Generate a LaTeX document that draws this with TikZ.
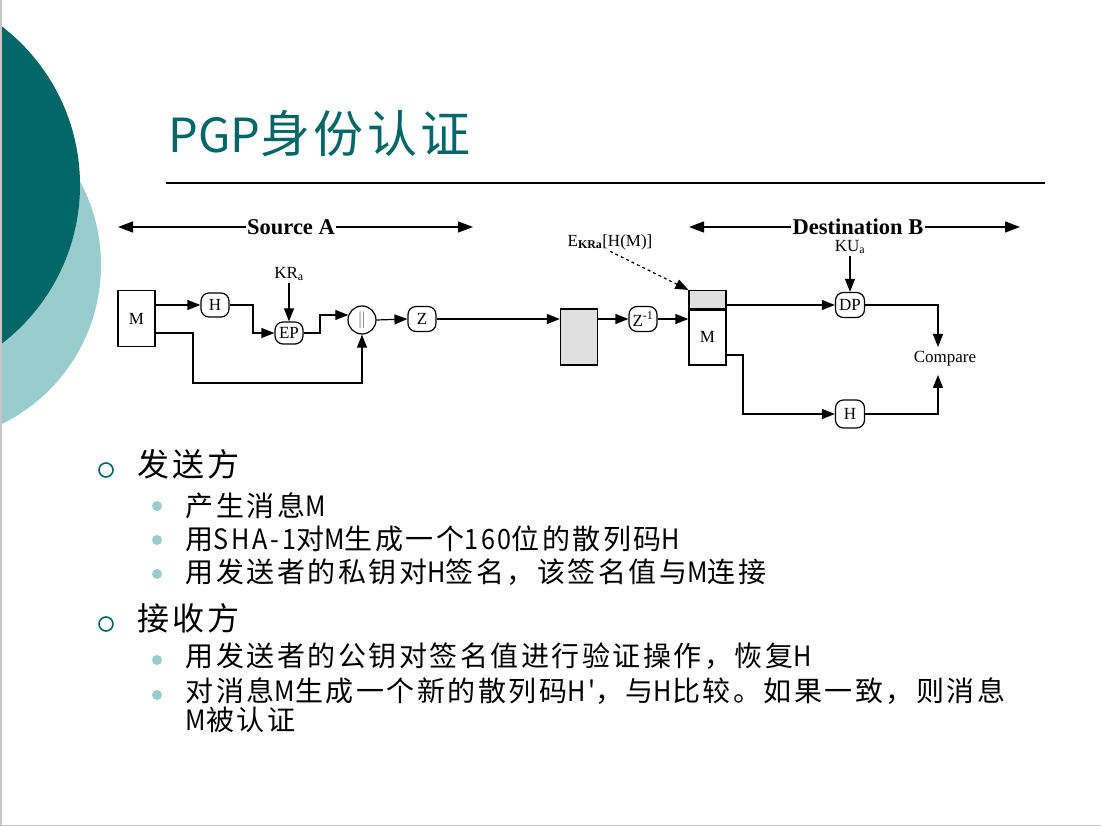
\documentclass[tikz,border=0pt]{standalone}
\usepackage{fontspec}
\setmainfont{Liberation Serif}
\newfontfamily\cjk{Noto Sans CJK SC}[LetterSpace=9]
\newfontfamily\cjktitle{Noto Sans CJK SC}[LetterSpace=7]
\newfontfamily\cjkplain{Noto Sans CJK SC}
\newfontfamily\cjklat{Noto Sans CJK SC}[FakeStretch=0.9, LetterSpace=10]
\newcommand{\latn}[1]{{\cjklat #1}}
\usetikzlibrary{arrows.meta}
\definecolor{slide-teal}{HTML}{006666}
\definecolor{slide-light}{HTML}{99CCCC}
\definecolor{box-gray}{HTML}{E0E0E0}

\begin{document}
\begin{tikzpicture}[x=1pt, y=-1pt, line width=1.2pt,
    arr/.style={-{Triangle[length=13pt,width=10pt]}},
    proc/.style={draw, rounded corners=8pt, minimum width=28pt,
                 minimum height=24pt, inner sep=0pt, font=\fontsize{17}{17}\selectfont},
    blk/.style={draw, minimum width=37pt, minimum height=56pt, inner sep=0pt,
                font=\fontsize{17}{17}\selectfont},
    side/.style={font=\bfseries\fontsize{22.5}{24}\selectfont, inner sep=1pt},
    lbl/.style={font=\fontsize{17}{18}\selectfont, inner sep=1pt},
    head/.style={anchor=west, inner sep=0pt, font=\cjk\fontsize{32}{36}\selectfont},
    item/.style={anchor=west, inner sep=0pt, align=left, font=\cjk\fontsize{28}{29}\selectfont},
    ring/.style={draw=slide-teal, line width=1.6pt, fill=none},
    dot/.style={fill=slide-light}]
  \useasboundingbox (0,0) rectangle (1101,826);
  % slide decoration
  \fill[slide-light] (-76,265) circle[radius=177];
  \fill[slide-teal] (-120,185) circle[radius=200];
  \draw[gray!45, line width=2pt] (1,0) -- (1,826);
  \draw[gray!45, line width=1pt] (0,825.5) -- (1101,825.5);
  % title
  \node[anchor=base west, inner sep=0pt, text=slide-teal] (title) at (168,153)
    {{\cjkplain\fontsize{47}{56}\selectfont PGP}{\cjktitle\fontsize{50}{56}\selectfont 身份认证}};
  \draw[line width=2pt] (166,183) -- (1045,183);
  % source side
  \node[side] (srcA) at (291,227) {Source A};
  \coordinate (srcL) at (118,227);
  \coordinate (srcR) at (473,227);
  \draw[-{Triangle[length=15pt,width=11pt]}] (srcA.west) -- (srcL);
  \draw[-{Triangle[length=15pt,width=11pt]}] (srcA.east) -- (srcR);
  \node[blk] (MA) at (136.5,318.5) {M};
  \node[proc] (HA) at (215,305) {H};
  \node[proc, minimum height=22pt] (EP) at (289,333) {EP};
  \node[lbl] (KRa) at (289,274) {KR\textsubscript{a}};
  \node[draw, circle, minimum size=28pt, inner sep=0pt, text=gray,
        font=\fontsize{18}{18}\selectfont] (cat) at (362,320) {||};
  \node[proc, minimum height=25pt] (ZA) at (422,319) {Z};
  \coordinate (bendA) at (253,305);
  \coordinate (bendB) at (320,333);
  \coordinate (lowA) at (193,383);
  \draw[arr] (MA.east |- HA.west) -- (HA.west);
  \draw[arr] (HA.east) -- (bendA) |- (EP.west);
  \draw[arr] (KRa) -- (EP);
  \draw[arr] (EP.east) -- (bendB) |- (cat.160);
  \draw[arr] (MA.east |- EP.west) -| (lowA) -| (cat.south);
  \draw[arr] (cat.east) -- (ZA.west);
  % channel
  \node[blk, fill=box-gray] (pkt) at (579,337) {};
  \node[proc, minimum height=25pt] (Zinv) at (643,319) {Z\textsuperscript{-1}};
  \draw[arr] (ZA.east) -- (pkt.west |- ZA.east);
  \draw[arr] (pkt.east |- Zinv.west) -- (Zinv.west);
  % destination side
  \node[side] (dstB) at (858,227) {Destination B};
  \coordinate (dstL) at (689,227);
  \coordinate (dstR) at (1020,227);
  \draw[-{Triangle[length=15pt,width=11pt]}] (dstB.west) -- (dstL);
  \draw[-{Triangle[length=15pt,width=11pt]}] (dstB.east) -- (dstR);
  \node[draw, fill=box-gray, minimum width=37pt, minimum height=19pt, inner sep=0pt] (sig) at (707.5,300) {};
  \node[blk] (MB) at (707.5,337) {M};
  \draw[line width=2.4pt] (sig.south west) -- (sig.south east);
  \node[lbl] (Ekra) at (610,242) {E\textsubscript{\textbf{KRa}}[H(M)]};
  \draw[arr, dashed] (Ekra.south) -- (sig.north west);
  \draw[arr] (Zinv.east) -- (MB.west |- Zinv.east);
  \node[proc, minimum width=29pt, minimum height=25pt] (DP) at (850,305) {DP};
  \node[lbl] (KUa) at (850,247) {KU\textsubscript{a}};
  \node[proc, minimum width=29pt, minimum height=28pt] (HB) at (850,414) {H};
  \node[lbl] (cmp) at (945,359) {Compare};
  \coordinate (cmpTop) at (938,347);
  \coordinate (cmpBot) at (938,375);
  \coordinate (bendC) at (743,355);
  \draw[arr] (sig.east |- DP.west) -- (DP.west);
  \draw[arr] (KUa) -- (DP);
  \draw[arr] (DP.east) -| (cmpTop);
  \draw[arr] (MB.east |- bendC) -- (bendC) |- (HB.west);
  \draw[arr] (HB.east) -| (cmpBot);
  % bullet list
  \draw[ring] (106,470) circle[radius=7];
  \node[head] (send) at (137,464) {发送方};
  \fill[dot] (157,506) circle[radius=5];
  \node[item] (s1) at (185,506) {产生消息\latn{M}};
  \fill[dot] (157,540) circle[radius=5];
  \node[item] (s2) at (185,539) {用\latn{SHA-1}对\latn{M}生成一个\latn{160}位的散列码\latn{H}};
  \fill[dot] (157,574) circle[radius=5];
  \node[item] (s3) at (185,572) {用发送者的私钥对\latn{H}签名，该签名值与\latn{M}连接};
  \draw[ring] (106,624) circle[radius=7];
  \node[head] (recv) at (137,618) {接收方};
  \fill[dot] (157,660) circle[radius=5];
  \node[item] (r1) at (185,656) {用发送者的公钥对签名值进行验证操作，恢复\latn{H}};
  \fill[dot] (157,695) circle[radius=5];
  \node[item, anchor=north west] (r2) at (185,677)
    {对消息\latn{M}生成一个新的散列码\latn{H\char39}，与\latn{H}比较。如果一致，则消息\\\latn{M}被认证};
\end{tikzpicture}
\end{document}
